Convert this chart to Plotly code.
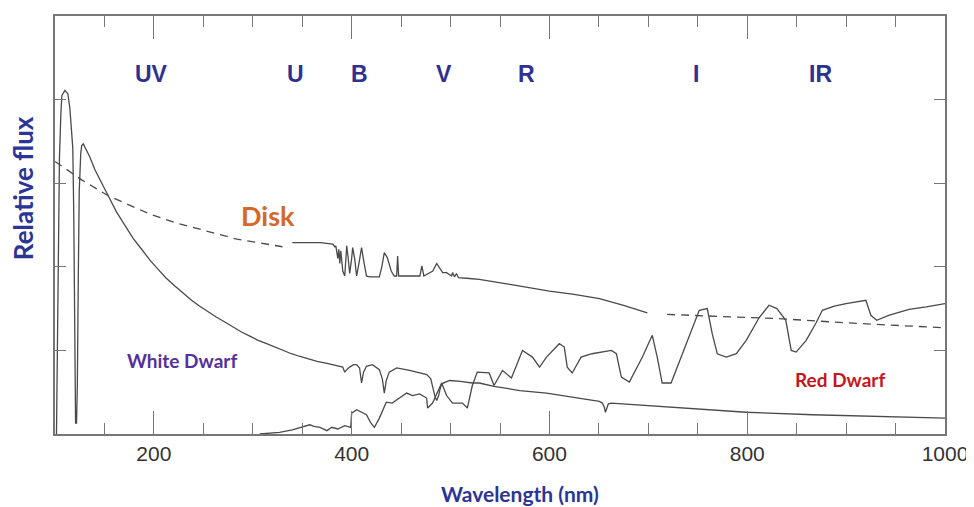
import plotly.graph_objects as go

# ---------------- data (wavelength in nm, relative flux) ----------------
wd_nm = [101.5, 102, 103, 104.5, 106, 107, 110, 113, 115, 116.5, 118, 119, 120, 120.8, 121.8,
         122.6, 123.5, 124.5, 126, 127, 128.6, 131, 135, 140.4, 147, 153.8, 162, 170.7, 179, 187.6,
         196, 204.3, 212, 221.2, 230, 238.1, 246, 254.9, 263, 271.7, 280, 288.6, 297, 305.4, 314,
         322.2, 330, 339.1, 347, 355.9, 365, 375, 383, 388,
         391, 393, 395, 398, 402, 405, 408, 410, 412, 415, 421, 428, 431, 433, 435, 438,
         445.5, 458.6, 470, 476, 480, 482, 484, 486, 488, 489, 491, 499, 510, 522, 529, 544,
         570, 597, 625, 650.5, 653.5, 655.5, 656.6, 658, 659.6, 662.6, 700, 731, 799, 866, 930, 1000]
wd_flux = [0.0, 0.6, 2.0, 3.3, 3.85, 4.05, 4.11, 4.07, 3.9, 3.7, 3.42, 2.6, 1.2, 0.13, 0.13,
           0.6, 1.8, 2.9, 3.35, 3.45, 3.47, 3.42, 3.32, 3.16, 3.0, 2.85, 2.66, 2.49, 2.34, 2.21,
           2.08, 1.97, 1.87, 1.77, 1.68, 1.60, 1.53, 1.46, 1.40, 1.34, 1.28, 1.22, 1.17, 1.12, 1.08,
           1.04, 1.0, 0.96, 0.93, 0.90, 0.87, 0.845, 0.82, 0.81,
           0.8, 0.74, 0.77, 0.8, 0.83, 0.83, 0.79, 0.61, 0.74, 0.81, 0.83, 0.77, 0.66, 0.49, 0.64, 0.74,
           0.79, 0.76, 0.73, 0.71, 0.66, 0.56, 0.46, 0.40, 0.46, 0.52, 0.6, 0.64, 0.63, 0.61, 0.61, 0.57,
           0.52, 0.49, 0.44, 0.39, 0.37, 0.32, 0.26, 0.32, 0.36, 0.37, 0.34, 0.31, 0.26, 0.23, 0.21, 0.19]

disk_uv_nm = [100, 127, 153.8, 196, 221, 246.5, 284, 330]
disk_uv_flux = [3.26, 3.04, 2.85, 2.63, 2.53, 2.45, 2.33, 2.24]

disk_opt_nm = [340, 355, 368, 381, 383, 384, 385, 386, 387, 388, 389, 390, 391, 393, 395, 396.5, 398,
               400, 401, 403, 405, 407.5, 410, 412.5, 415, 418, 428, 430.5, 433, 436, 440, 443, 445.5,
               446.5, 447.5, 469, 471, 473, 482, 486, 489, 492, 496, 501, 502, 504, 506, 508, 519,
               529, 560, 600, 625, 650.5, 675, 699]
disk_opt_flux = [2.29, 2.29, 2.29, 2.27, 2.24, 2.25, 2.16, 2.10, 2.21, 2.04, 2.19, 2.0, 1.95, 1.89, 2.25, 2.1, 1.92,
                 2.1, 2.23, 2.1, 1.89, 2.05, 2.23, 2.05, 1.89, 1.88, 1.88, 2.0, 2.17, 2.11, 1.95, 1.89, 1.89,
                 2.13, 1.89, 1.89, 2.01, 1.89, 1.95, 2.04, 1.99, 1.93, 1.93, 1.89, 1.93, 1.88, 1.92, 1.87, 1.86,
                 1.85, 1.79, 1.71, 1.67, 1.62, 1.54, 1.45]

disk_ir_nm = [719, 780, 832, 900, 950, 1000]
disk_ir_flux = [1.43, 1.40, 1.38, 1.33, 1.30, 1.27]

rd_nm = [307, 327, 340, 349.5, 357.6, 362, 368, 375, 380, 386, 393, 399, 400, 405, 410, 415, 419, 423,
         428, 435, 441, 448.5, 455.6, 461.6, 468.7, 475.8, 476.8, 481.8, 486, 491, 496, 502, 512,
         517, 522, 527, 539, 544, 552.5, 561.6, 572.7, 582.8, 590, 597, 610, 615, 618, 623, 632,
         643, 662.6, 667.7, 672.7, 680.8, 694, 704, 709, 714, 723, 738, 751.5, 759.6, 764.6, 769.7,
         778.8, 789, 799, 812, 822, 830, 839, 844.5, 849.5, 859.6, 869.7, 876, 888, 900, 920, 925,
         931, 943, 963.6, 981, 1000]
rd_flux = [0.0, 0.02, 0.05, 0.08, 0.11, 0.09, 0.08, 0.04, 0.08, 0.06, 0.1, 0.08, 0.25, 0.29, 0.26, 0.23, 0.14, 0.08,
           0.19, 0.38, 0.37, 0.43, 0.49, 0.46, 0.48, 0.43, 0.31, 0.37, 0.49, 0.61, 0.46, 0.37, 0.37,
           0.31, 0.58, 0.74, 0.73, 0.58, 0.76, 0.67, 1.0, 0.92, 0.8, 0.92, 1.08, 1.04, 0.8, 0.73, 0.92,
           0.96, 1.0, 0.96, 0.68, 0.62, 0.92, 1.18, 0.92, 0.61, 0.61, 1.08, 1.48, 1.5, 1.2, 0.96,
           0.92, 0.96, 1.12, 1.39, 1.54, 1.5, 1.36, 1.0, 0.98, 1.12, 1.33, 1.48, 1.53, 1.56, 1.6, 1.42,
           1.36, 1.42, 1.49, 1.52, 1.56]

band_names = ["UV", "U", "B", "V", "R", "I", "IR"]
band_nm = [198, 343, 408, 493, 577, 748, 874]
band_flux = [4.31] * len(band_names)

x_ticks = [200, 400, 600, 800, 1000]
y_ticks = [1, 2, 3, 4]

# ---------------- figure ----------------
LINE = "#4a4a4a"
fig = go.Figure()
fig.add_trace(go.Scatter(x=wd_nm, y=wd_flux, mode="lines",
                         line=dict(color=LINE, width=1.3), hoverinfo="skip"))
fig.add_trace(go.Scatter(x=disk_uv_nm, y=disk_uv_flux, mode="lines",
                         line=dict(color=LINE, width=1.3, dash="8px,6px"), hoverinfo="skip"))
fig.add_trace(go.Scatter(x=disk_opt_nm, y=disk_opt_flux, mode="lines",
                         line=dict(color=LINE, width=1.3), hoverinfo="skip"))
fig.add_trace(go.Scatter(x=disk_ir_nm, y=disk_ir_flux, mode="lines",
                         line=dict(color=LINE, width=1.3, dash="8px,6px"), hoverinfo="skip"))
fig.add_trace(go.Scatter(x=rd_nm, y=rd_flux, mode="lines",
                         line=dict(color=LINE, width=1.3), hoverinfo="skip"))

for name, bx, by in zip(band_names, band_nm, band_flux):
    fig.add_annotation(x=bx, y=by, text=name, showarrow=False,
                       font=dict(family="Liberation Sans", size=23, color="#2e3192", weight="bold"),
                       xanchor="center", yanchor="middle")

fig.add_annotation(x=315, y=2.61, text="Disk", showarrow=False,
                   font=dict(family="Lato", size=27, color="#d4692a", weight="bold"))
fig.add_annotation(x=228, y=0.88, text="White Dwarf", showarrow=False,
                   font=dict(family="Lato", size=19, color="#55309b", weight="bold"))
fig.add_annotation(x=894, y=0.655, text="Red Dwarf", showarrow=False,
                   font=dict(family="Lato", size=19, color="#c4161c", weight="bold"))

fig.add_annotation(xref="paper", yref="paper", x=-0.036, y=0.588, text="Relative flux",
                   textangle=-90, showarrow=False, xanchor="center", yanchor="middle",
                   font=dict(family="Lato", size=26, color="#2b3596", weight="bold"))
fig.add_annotation(xref="paper", yref="paper", x=0.522, y=-0.143, text="Wavelength (nm)",
                   showarrow=False, xanchor="center", yanchor="middle",
                   font=dict(family="Lato", size=21, color="#2b3596", weight="bold"))

fig.update_xaxes(range=[100, 1000], tickvals=x_ticks, ticktext=[str(v) for v in x_ticks],
                 ticks="inside", ticklen=23, tickwidth=1.3, tickcolor="#777",
                 minor=dict(tick0=100, dtick=50, ticks="inside", ticklen=11, tickwidth=1.3, tickcolor="#777"),
                 showline=True, linecolor="#777", linewidth=1.5, mirror="ticks",
                 showgrid=False, zeroline=False,
                 tickfont=dict(family="Liberation Sans", size=21, color="#333"))
fig.update_yaxes(range=[0, 5], tickvals=y_ticks, showticklabels=False,
                 ticks="inside", ticklen=11, tickwidth=1.3, tickcolor="#777",
                 showline=True, linecolor="#777", linewidth=1.5, mirror="ticks",
                 showgrid=False, zeroline=False)

# page body has an 8px margin: size and margins compensate so the plot area lands where the reference has it
fig.update_layout(width=966, height=499, margin=dict(l=47, r=28, t=6, b=73, pad=0),
                  paper_bgcolor="white", plot_bgcolor="white", showlegend=False)

fig.write_html("out.html")
